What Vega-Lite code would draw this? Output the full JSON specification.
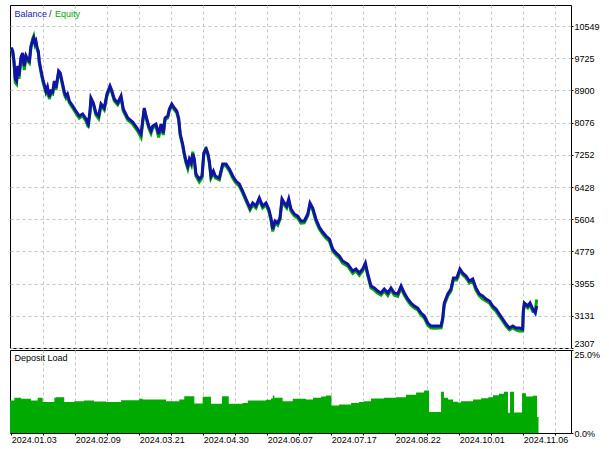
{
  "$schema": "https://vega.github.io/schema/vega-lite/v6.json",
  "background": "white",
  "padding": {"left": 4, "top": 4, "right": 0, "bottom": 0},
  "spacing": 2,
  "bounds": "flush",
  "config": {
    "font": "Liberation Sans",
    "view": {"stroke": "black", "strokeWidth": 1},
    "axis": {
      "labelFont": "Liberation Sans",
      "labelFontSize": 9,
      "labelColor": "#000000",
      "gridColor": "#c4c4c4",
      "gridDash": [3, 3],
      "gridWidth": 1,
      "tickColor": "#000000",
      "domain": false,
      "title": null
    },
    "text": {"font": "Liberation Sans", "fontSize": 9}
  },
  "datasets": {
    "balance": [
      {"n": 0, "b": 10000, "e": 9960}, {"n": 0.9, "b": 9910, "e": 9870}, {"n": 1.7, "b": 9654, "e": 9600},
      {"n": 2.5, "b": 9193, "e": 9100}, {"n": 3.3, "b": 9142, "e": 9060}, {"n": 4.0, "b": 9526, "e": 9480},
      {"n": 4.8, "b": 9270, "e": 9200}, {"n": 6.1, "b": 9757, "e": 9700}, {"n": 7.1, "b": 9859, "e": 9820},
      {"n": 8.1, "b": 9526, "e": 9420}, {"n": 9.2, "b": 9782, "e": 9740}, {"n": 10.1, "b": 9705, "e": 9660},
      {"n": 11.3, "b": 9654, "e": 9600}, {"n": 12.3, "b": 10038, "e": 9990}, {"n": 13.3, "b": 10166, "e": 10220},
      {"n": 14.0, "b": 10243, "e": 10290}, {"n": 14.8, "b": 10115, "e": 10070}, {"n": 15.4, "b": 10166, "e": 10120},
      {"n": 16.2, "b": 9987, "e": 9940}, {"n": 16.9, "b": 9910, "e": 9860}, {"n": 17.5, "b": 9654, "e": 9600},
      {"n": 19.0, "b": 9321, "e": 9270}, {"n": 20.0, "b": 9142, "e": 9080}, {"n": 21.7, "b": 8886, "e": 8840},
      {"n": 22.6, "b": 8989, "e": 8940}, {"n": 23.8, "b": 8733, "e": 8680}, {"n": 24.8, "b": 8886, "e": 8840},
      {"n": 25.9, "b": 8861, "e": 8810}, {"n": 26.9, "b": 9142, "e": 9100}, {"n": 27.9, "b": 8963, "e": 8910},
      {"n": 29.6, "b": 9398, "e": 9350}, {"n": 30.6, "b": 9347, "e": 9300}, {"n": 32.1, "b": 9065, "e": 9010},
      {"n": 33.3, "b": 8835, "e": 8780}, {"n": 34.2, "b": 8758, "e": 8700}, {"n": 35.1, "b": 8809, "e": 8760},
      {"n": 36.3, "b": 8630, "e": 8580}, {"n": 38.4, "b": 8502, "e": 8450}, {"n": 40.4, "b": 8374, "e": 8320},
      {"n": 42.5, "b": 8246, "e": 8190}, {"n": 44.6, "b": 8297, "e": 8250}, {"n": 46.7, "b": 8169, "e": 8110},
      {"n": 48.1, "b": 8041, "e": 7960}, {"n": 49.2, "b": 8374, "e": 8330}, {"n": 49.8, "b": 8707, "e": 8660},
      {"n": 51.3, "b": 8579, "e": 8530}, {"n": 52.9, "b": 8323, "e": 8270}, {"n": 54.6, "b": 8246, "e": 8180},
      {"n": 56.1, "b": 8553, "e": 8510}, {"n": 58.1, "b": 8451, "e": 8400}, {"n": 59.8, "b": 8809, "e": 8760},
      {"n": 61.7, "b": 9014, "e": 8970}, {"n": 62.9, "b": 8886, "e": 8840}, {"n": 64.4, "b": 8681, "e": 8630},
      {"n": 66.5, "b": 8579, "e": 8530}, {"n": 68.6, "b": 8758, "e": 8710}, {"n": 70.0, "b": 8425, "e": 8370},
      {"n": 72.8, "b": 8195, "e": 8140}, {"n": 75.9, "b": 8093, "e": 8040}, {"n": 79.0, "b": 7913, "e": 7860},
      {"n": 81.1, "b": 7785, "e": 7700}, {"n": 82.1, "b": 8118, "e": 8070}, {"n": 83.1, "b": 8451, "e": 8400},
      {"n": 84.2, "b": 8246, "e": 8200}, {"n": 85.9, "b": 7990, "e": 7940}, {"n": 87.3, "b": 7862, "e": 7800},
      {"n": 88.4, "b": 7990, "e": 7940}, {"n": 90.4, "b": 8041, "e": 7990}, {"n": 92.1, "b": 7785, "e": 7700},
      {"n": 93.6, "b": 8041, "e": 7990}, {"n": 95.0, "b": 7811, "e": 7760}, {"n": 96.1, "b": 8195, "e": 8150},
      {"n": 97.8, "b": 8246, "e": 8200}, {"n": 98.8, "b": 8425, "e": 8380}, {"n": 100.3, "b": 8553, "e": 8510},
      {"n": 101.9, "b": 8451, "e": 8400}, {"n": 103.4, "b": 8374, "e": 8330}, {"n": 104.6, "b": 8195, "e": 8140},
      {"n": 105.6, "b": 7785, "e": 7740}, {"n": 107.1, "b": 7529, "e": 7480}, {"n": 108.1, "b": 7299, "e": 7250},
      {"n": 109.2, "b": 7094, "e": 7040}, {"n": 110.3, "b": 6966, "e": 6900}, {"n": 111.3, "b": 7145, "e": 7100},
      {"n": 112.5, "b": 7043, "e": 6990}, {"n": 113.4, "b": 7273, "e": 7330}, {"n": 114.4, "b": 7145, "e": 7100},
      {"n": 115.4, "b": 6761, "e": 6710}, {"n": 117.5, "b": 6633, "e": 6560}, {"n": 119.2, "b": 6710, "e": 6660},
      {"n": 120.3, "b": 7299, "e": 7250}, {"n": 121.7, "b": 7401, "e": 7450}, {"n": 122.8, "b": 7299, "e": 7250},
      {"n": 123.8, "b": 7094, "e": 7040}, {"n": 124.8, "b": 6710, "e": 6660}, {"n": 126.3, "b": 6838, "e": 6790},
      {"n": 127.5, "b": 6710, "e": 6660}, {"n": 130.0, "b": 6659, "e": 6610}, {"n": 132.1, "b": 7017, "e": 6970},
      {"n": 134.2, "b": 7017, "e": 6970}, {"n": 136.3, "b": 6889, "e": 6840}, {"n": 138.4, "b": 6710, "e": 6660},
      {"n": 140.4, "b": 6582, "e": 6530}, {"n": 142.5, "b": 6505, "e": 6450}, {"n": 144.6, "b": 6326, "e": 6270},
      {"n": 146.7, "b": 6121, "e": 6070}, {"n": 149.2, "b": 5891, "e": 5840}, {"n": 150.9, "b": 6019, "e": 5970},
      {"n": 152.9, "b": 5942, "e": 5890}, {"n": 155.0, "b": 6147, "e": 6100}, {"n": 157.1, "b": 5942, "e": 5890},
      {"n": 159.2, "b": 6019, "e": 5970}, {"n": 160.9, "b": 5865, "e": 5810}, {"n": 162.3, "b": 5635, "e": 5580},
      {"n": 163.4, "b": 5353, "e": 5290}, {"n": 164.8, "b": 5558, "e": 5510}, {"n": 166.5, "b": 5507, "e": 5450},
      {"n": 167.9, "b": 5635, "e": 5590}, {"n": 169.2, "b": 6121, "e": 6070}, {"n": 170.6, "b": 6019, "e": 5970},
      {"n": 172.1, "b": 5942, "e": 5890}, {"n": 173.4, "b": 6121, "e": 6070}, {"n": 174.8, "b": 5865, "e": 5810},
      {"n": 176.9, "b": 5737, "e": 5690}, {"n": 179.0, "b": 5686, "e": 5630}, {"n": 181.1, "b": 5558, "e": 5500},
      {"n": 183.1, "b": 5558, "e": 5510}, {"n": 185.3, "b": 5737, "e": 5690}, {"n": 186.7, "b": 6019, "e": 5970},
      {"n": 188.4, "b": 5891, "e": 5840}, {"n": 190.4, "b": 5609, "e": 5550}, {"n": 192.5, "b": 5405, "e": 5350},
      {"n": 194.6, "b": 5277, "e": 5220}, {"n": 196.7, "b": 5174, "e": 5120}, {"n": 198.8, "b": 5097, "e": 5040},
      {"n": 200.9, "b": 4841, "e": 4790}, {"n": 202.9, "b": 4739, "e": 4690}, {"n": 205.0, "b": 4662, "e": 4610},
      {"n": 207.1, "b": 4534, "e": 4480}, {"n": 210.3, "b": 4457, "e": 4400}, {"n": 213.4, "b": 4278, "e": 4220},
      {"n": 215.4, "b": 4329, "e": 4280}, {"n": 217.5, "b": 4227, "e": 4170}, {"n": 219.6, "b": 4329, "e": 4280},
      {"n": 221.3, "b": 4483, "e": 4430}, {"n": 222.8, "b": 4201, "e": 4150}, {"n": 224.8, "b": 3894, "e": 3840},
      {"n": 226.9, "b": 3843, "e": 3790}, {"n": 229.0, "b": 3766, "e": 3710}, {"n": 231.1, "b": 3715, "e": 3660},
      {"n": 233.1, "b": 3817, "e": 3770}, {"n": 235.3, "b": 3715, "e": 3650}, {"n": 237.3, "b": 3843, "e": 3790},
      {"n": 239.4, "b": 3715, "e": 3660}, {"n": 241.5, "b": 3689, "e": 3630}, {"n": 243.6, "b": 3894, "e": 3840},
      {"n": 245.6, "b": 3715, "e": 3660}, {"n": 247.8, "b": 3561, "e": 3510}, {"n": 249.8, "b": 3459, "e": 3400},
      {"n": 251.9, "b": 3382, "e": 3330}, {"n": 254.0, "b": 3331, "e": 3280}, {"n": 256.1, "b": 3203, "e": 3150},
      {"n": 258.1, "b": 3126, "e": 3070}, {"n": 260.3, "b": 2947, "e": 2890}, {"n": 262.3, "b": 2870, "e": 2820},
      {"n": 265.4, "b": 2870, "e": 2810}, {"n": 268.6, "b": 2870, "e": 2820}, {"n": 269.6, "b": 3075, "e": 3020},
      {"n": 270.6, "b": 3459, "e": 3410}, {"n": 272.8, "b": 3689, "e": 3640}, {"n": 274.8, "b": 3817, "e": 3770},
      {"n": 276.3, "b": 4099, "e": 4050}, {"n": 278.4, "b": 4099, "e": 4050}, {"n": 280.4, "b": 4329, "e": 4280},
      {"n": 282.1, "b": 4227, "e": 4180}, {"n": 284.2, "b": 4150, "e": 4100}, {"n": 286.3, "b": 4022, "e": 3970},
      {"n": 288.4, "b": 4073, "e": 4020}, {"n": 290.4, "b": 3843, "e": 3790}, {"n": 292.5, "b": 3689, "e": 3640},
      {"n": 294.6, "b": 3638, "e": 3560}, {"n": 296.7, "b": 3561, "e": 3510}, {"n": 298.8, "b": 3510, "e": 3460},
      {"n": 300.9, "b": 3382, "e": 3330}, {"n": 302.9, "b": 3305, "e": 3250}, {"n": 305.0, "b": 3177, "e": 3120},
      {"n": 307.1, "b": 3049, "e": 3000}, {"n": 309.2, "b": 2921, "e": 2870}, {"n": 311.3, "b": 2819, "e": 2770},
      {"n": 313.4, "b": 2870, "e": 2820}, {"n": 315.4, "b": 2819, "e": 2770}, {"n": 317.5, "b": 2819, "e": 2740},
      {"n": 319.6, "b": 2793, "e": 2740}, {"n": 320.0, "b": 3254, "e": 3200}, {"n": 320.6, "b": 3459, "e": 3410},
      {"n": 322.8, "b": 3382, "e": 3330}, {"n": 324.2, "b": 3459, "e": 3410}, {"n": 325.9, "b": 3305, "e": 3250},
      {"n": 327.5, "b": 3203, "e": 3280}, {"n": 328.4, "b": 3382, "e": 3550}
    ],
    "load": [
      {"n": -0.8, "load": 9.8}, {"n": 1.9, "load": 10.6}, {"n": 6.1, "load": 10.3}, {"n": 12.3, "load": 9.8},
      {"n": 16.5, "load": 10.6}, {"n": 19.6, "load": 9.3}, {"n": 26.9, "load": 10.6}, {"n": 27.9, "load": 10.8},
      {"n": 33.1, "load": 9.3}, {"n": 39.4, "load": 9.6}, {"n": 45.4, "load": 9.8}, {"n": 51.7, "load": 9.5},
      {"n": 59.2, "load": 9.3}, {"n": 68.6, "load": 9.9}, {"n": 80.0, "load": 10.3}, {"n": 82.1, "load": 10.1},
      {"n": 96.7, "load": 9.6}, {"n": 105.0, "load": 10.1}, {"n": 108.1, "load": 11.1}, {"n": 114.4, "load": 8.9},
      {"n": 119.6, "load": 10.9}, {"n": 124.8, "load": 8.8}, {"n": 131.7, "load": 11.1}, {"n": 135.9, "load": 8.8},
      {"n": 144.6, "load": 9.0}, {"n": 147.8, "load": 9.8}, {"n": 159.2, "load": 10.0}, {"n": 162.3, "load": 10.4},
      {"n": 163.4, "load": 11.3}, {"n": 164.4, "load": 10.6}, {"n": 169.6, "load": 9.6}, {"n": 175.9, "load": 10.3},
      {"n": 184.2, "load": 10.1}, {"n": 188.6, "load": 10.6}, {"n": 193.6, "load": 11.0}, {"n": 196.7, "load": 11.3},
      {"n": 200.1, "load": 8.3}, {"n": 204.8, "load": 8.6}, {"n": 212.3, "load": 9.0}, {"n": 217.3, "load": 9.3},
      {"n": 220.4, "load": 9.6}, {"n": 224.8, "load": 10.4}, {"n": 233.0, "load": 10.6}, {"n": 240.4, "load": 10.8},
      {"n": 246.7, "load": 11.5}, {"n": 253.0, "load": 12.2}, {"n": 258.0, "load": 12.8}, {"n": 261.1, "load": 6.3},
      {"n": 268.6, "load": 12.4}, {"n": 270.4, "load": 10.6}, {"n": 272.9, "load": 10.1}, {"n": 276.1, "load": 9.4},
      {"n": 279.2, "load": 9.2}, {"n": 281.1, "load": 9.6}, {"n": 288.6, "load": 10.1}, {"n": 293.6, "load": 10.5},
      {"n": 298.1, "load": 10.8}, {"n": 301.1, "load": 11.4}, {"n": 304.8, "load": 11.8}, {"n": 307.9, "load": 12.4},
      {"n": 310.4, "load": 6.1}, {"n": 311.7, "load": 12.4}, {"n": 314.2, "load": 6.2}, {"n": 319.2, "load": 12.0},
      {"n": 321.7, "load": 11.0}, {"n": 326.1, "load": 11.2}, {"n": 328.6, "load": 4.8}, {"n": 329.5, "load": 0}
    ]
  },
  "vconcat": [
    {
      "width": 561,
      "height": 343,
      "layer": [
        {
          "data": {"name": "balance"},
          "mark": {"type": "line", "color": "#00a800", "strokeWidth": 3, "strokeJoin": "miter"},
          "encoding": {
            "x": {
              "field": "n",
              "type": "quantitative",
              "scale": {"domain": [-0.8, 349.8], "nice": false, "zero": false},
              "axis": {
                "orient": "bottom",
                "values": [20, 40, 60, 80, 100, 120, 140, 160, 180, 200, 220, 240, 260, 280, 300, 320, 340],
                "tickCount": 40,
                "labels": false,
                "ticks": false,
                "grid": true,
                "minExtent": 0,
                "maxExtent": 0
              }
            },
            "y": {
              "field": "e",
              "type": "quantitative",
              "scale": {"domain": [2307, 11087], "nice": false, "zero": false},
              "axis": {
                "orient": "right",
                "values": [2307, 3131, 3955, 4779, 5604, 6428, 7252, 8076, 8900, 9725, 10549],
                "tickCount": 40,
                "format": "d",
                "grid": true,
                "ticks": true,
                "tickSize": 2,
                "labelPadding": 1,
                "labelOverlap": false,
                "labelFlush": true,
                "labelFlushOffset": 0
              }
            }
          }
        },
        {
          "data": {"name": "balance"},
          "mark": {"type": "line", "color": "#1212a8", "strokeWidth": 3, "strokeJoin": "miter"},
          "encoding": {
            "x": {"field": "n", "type": "quantitative"},
            "y": {"field": "b", "type": "quantitative"}
          }
        },
        {
          "data": {"values": [{"t": "Balance"}]},
          "mark": {"type": "text", "align": "left", "baseline": "middle", "dx": 4.5, "dy": 8.5, "fill": "#1a1ab0"},
          "encoding": {
            "x": {"datum": -0.8, "type": "quantitative"},
            "y": {"datum": 11087, "type": "quantitative"},
            "text": {"field": "t", "type": "nominal"}
          }
        },
        {
          "data": {"values": [{"t": "/"}]},
          "mark": {"type": "text", "align": "left", "baseline": "middle", "dx": 39, "dy": 8.5, "fill": "#202060"},
          "encoding": {
            "x": {"datum": -0.8, "type": "quantitative"},
            "y": {"datum": 11087, "type": "quantitative"},
            "text": {"field": "t", "type": "nominal"}
          }
        },
        {
          "data": {"values": [{"t": "Equity"}]},
          "mark": {"type": "text", "align": "left", "baseline": "middle", "dx": 45, "dy": 8.5, "fill": "#00a800"},
          "encoding": {
            "x": {"datum": -0.8, "type": "quantitative"},
            "y": {"datum": 11087, "type": "quantitative"},
            "text": {"field": "t", "type": "nominal"}
          }
        }
      ]
    },
    {
      "width": 561,
      "height": 83,
      "layer": [
        {
          "data": {"name": "load"},
          "mark": {"type": "area", "color": "#00aa00", "interpolate": "step-after"},
          "encoding": {
            "x": {
              "field": "n",
              "type": "quantitative",
              "scale": {"domain": [-0.8, 349.8], "nice": false, "zero": false},
              "axis": {
                "orient": "bottom",
                "values": [0, 20, 40, 60, 80, 100, 120, 140, 160, 180, 200, 220, 240, 260, 280, 300, 320, 340],
                "tickCount": 40,
                "grid": true,
                "gridOpacity": {"condition": {"test": "datum.value == 0", "value": 0}, "value": 1},
                "ticks": true,
                "tickSize": 2,
                "labelAlign": "left",
                "labelBaseline": "top",
                "labelPadding": 0,
                "labelOverlap": false,
                "labelFlush": false,
                "labelBound": false,
                "labelExpr": "datum.value == 0 ? '2024.01.03' : datum.value == 40 ? '2024.02.09' : datum.value == 80 ? '2024.03.21' : datum.value == 120 ? '2024.04.30' : datum.value == 160 ? '2024.06.07' : datum.value == 200 ? '2024.07.17' : datum.value == 240 ? '2024.08.22' : datum.value == 280 ? '2024.10.01' : datum.value == 320 ? '2024.11.06' : ''"
              }
            },
            "y": {
              "field": "load",
              "type": "quantitative",
              "scale": {"domain": [0, 25], "nice": false},
              "axis": {
                "orient": "right",
                "values": [0, 25],
                "grid": false,
                "ticks": true,
                "tickSize": 2,
                "labelPadding": 1,
                "labelOverlap": false,
                "labelFlush": false,
                "labelExpr": "format(datum.value, '.1f') + '%'",
                "labelBaseline": {"condition": {"test": "datum.value == 25", "value": "top"}, "value": "middle"}
              }
            }
          }
        },
        {
          "data": {"values": [{"t": "Deposit Load"}]},
          "mark": {"type": "text", "align": "left", "baseline": "middle", "dx": 4.5, "dy": 8, "fill": "#000000"},
          "encoding": {
            "x": {"datum": -0.8, "type": "quantitative"},
            "y": {"datum": 25, "type": "quantitative"},
            "text": {"field": "t", "type": "nominal"}
          }
        }
      ]
    }
  ]
}
